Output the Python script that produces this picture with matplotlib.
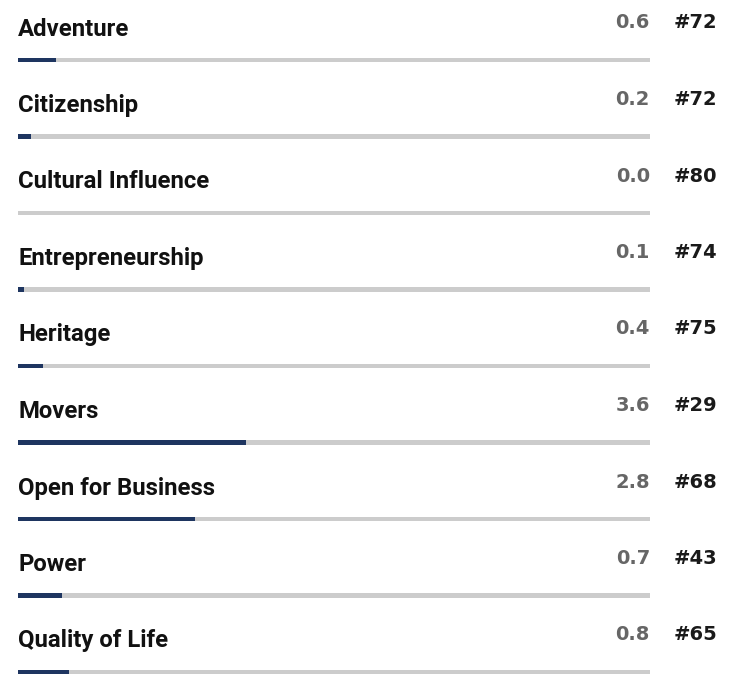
import matplotlib
matplotlib.use("Agg")
import matplotlib.pyplot as plt

categories = ["Adventure", "Citizenship", "Cultural Influence", "Entrepreneurship",
              "Heritage", "Movers", "Open for Business", "Power", "Quality of Life"]
scores = [0.6, 0.2, 0.0, 0.1, 0.4, 3.6, 2.8, 0.7, 0.8]
ranks = [72, 72, 80, 74, 75, 29, 68, 43, 65]
max_score = 10

W, H = 735, 699
fig = plt.figure(figsize=(W / 100, H / 100), dpi=100)
left_px, right_px = 18, 650
pitch = 76.5
first_track = 60
ax = fig.add_axes([left_px / W, 0, (right_px - left_px) / W, 1])
ax.set_xlim(0, max_score)
ax.set_ylim((H - first_track) / pitch, -first_track / pitch)
ax.axis("off")

bar_h = 4.5 / pitch
n = len(categories)
ys = list(range(n))
ax.barh(ys, [max_score] * n, height=bar_h, color="#cccccc", linewidth=0)
ax.barh(ys, scores, height=bar_h, color="#1e3560", linewidth=0)

px_x = max_score / (right_px - left_px)
for i, (cat, s, r) in enumerate(zip(categories, scores, ranks)):
    ax.text(0, i - 31 / pitch, cat, fontsize=17.2, fontweight="bold",
            family="Roboto", color="#111111", ha="left", va="center")
    ax.text(max_score, i - 37 / pitch, f"{s:.1f}", fontsize=14, fontweight="bold",
            family="DejaVu Sans", color="#666666", ha="right", va="center", clip_on=False)
    ax.text(max_score + 24 * px_x, i - 37 / pitch, f"#{r}", fontsize=14, fontweight="bold",
            family="DejaVu Sans", color="#1a1a1a", ha="left", va="center", clip_on=False)

fig.savefig("out.png", dpi=100)
